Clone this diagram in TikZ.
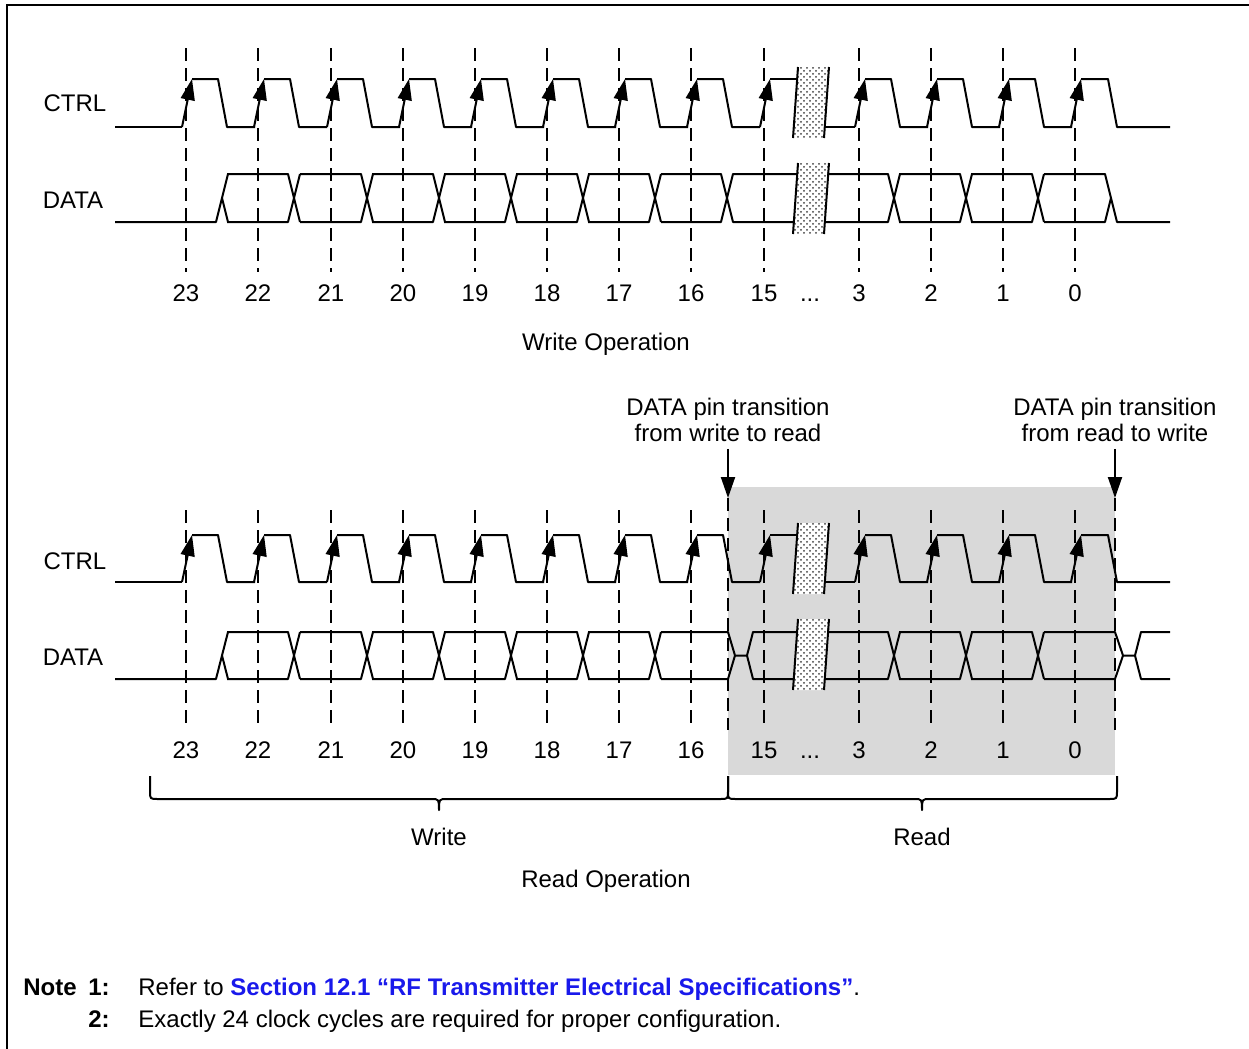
\documentclass[tikz,border=0pt]{standalone}
\usepackage{fontspec}
\setmainfont{Liberation Sans}
\usetikzlibrary{arrows.meta,patterns}
\definecolor{readgray}{RGB}{217,217,217}
\definecolor{linkblue}{RGB}{25,25,235}
\tikzset{
  wave/.style={line width=1pt, line join=round},
  clk/.style={wave, -{Triangle[length=10.5pt,width=7pt]}},
  tick/.style={line width=1pt, dash pattern=on 6.5pt off 3.5pt},
  boldlbl/.style={font=\fontsize{12}{13}\selectfont\bfseries},
  note/.style={inner sep=0pt},
}
\begin{document}
\begin{tikzpicture}[x=0.5pt, y=-0.5pt, every node/.style={font=\fontsize{12}{13}\selectfont}]
    \useasboundingbox (0,0) rectangle (1249,1049);
    % frame
    \draw[line width=1.2pt] (7,1049) -- (7,5) -- (1249,5);

    % read window
    \fill[readgray] (728,487) rectangle (1115,775);

    % dashed clock markers
    \foreach \x in {186,258,331,403,475,547,619,691,764,859,931,1003,1075}{%
        \draw[tick] (\x,48) -- (\x,272);
        \draw[tick] (\x,510) -- (\x,730);
    }
    \draw[tick] (728,498) -- (728,730);
    \draw[tick] (1115,498) -- (1115,730);

    % CTRL (write and read)
    \foreach \hi/\lo in {79/127,535/582}{%
        \draw[wave] (115,\lo) -- (182,\lo);
        \foreach \x in {186,258,331,403,475,547,619,691,859,931,1003}{%
            \draw[clk] (\x-4,\lo) -- (\x+6,\hi);
            \draw[wave] (\x+6,\hi) -- (\x+32,\hi) -- (\x+41,\lo) -- (\x+69,\lo);
        }
        \draw[clk] (760,\lo) -- (770,\hi);
        \draw[wave] (770,\hi) -- (797,\hi);
        \draw[wave] (825,\lo) -- (855,\lo);
        \draw[clk] (1071,\lo) -- (1081,\hi);
        \draw[wave] (1081,\hi) -- (1108,\hi) -- (1117,\lo) -- (1170,\lo);
    }

    % DATA (write and read)
    \foreach \hi/\md/\lo in {174/198/222,632/655.5/679}{%
        \draw[wave] (115,\lo) -- (216,\lo) -- (228,\hi);
        \draw[wave] (222,\md) -- (228,\lo);
        \foreach \c in {294,367,439,511,583,655,966,1038}{%
            \draw[wave] (\c-67,\hi) -- (\c-6,\hi) -- (\c+6,\lo);
            \draw[wave] (\c-67,\lo) -- (\c-6,\lo) -- (\c+6,\hi);
        }
        \draw[wave] (828,\hi) -- (888,\hi) -- (900,\lo);
        \draw[wave] (825,\lo) -- (888,\lo) -- (900,\hi);
    }
    % write: keeps driving
    \draw[wave] (661,174) -- (721,174) -- (733,222) -- (794,222);
    \draw[wave] (661,222) -- (721,222) -- (733,174) -- (797,174);
    \draw[wave] (1044,174) -- (1105,174) -- (1117,222) -- (1170,222);
    \draw[wave] (1044,222) -- (1105,222) -- (1111,198);
    % read: pin released
    \draw[wave] (661,632) -- (728,632) -- (735,655.5) -- (747,655.5) -- (753,632) -- (797,632);
    \draw[wave] (661,679) -- (728,679) -- (735,655.5);
    \draw[wave] (747,655.5) -- (753,679) -- (794,679);
    \draw[wave] (1044,632) -- (1115,632) -- (1123,655.5) -- (1135,655.5) -- (1141,632) -- (1170,632);
    \draw[wave] (1044,679) -- (1115,679) -- (1123,655.5);
    \draw[wave] (1135,655.5) -- (1141,679) -- (1170,679);

    % breaks
    \foreach \y in {67,163,523,619}{%
        \fill[white] (798,\y) -- (829,\y) -- (824,\y+71) -- (793,\y+71) -- cycle;
        \fill[pattern=crosshatch dots, pattern color=black!75] (798,\y) -- (829,\y) -- (824,\y+71) -- (793,\y+71) -- cycle;
        \draw[wave] (798,\y) -- (793,\y+71);
        \draw[wave] (829,\y) -- (824,\y+71);
    }

    % signal names
    \node (ctrlW) at (75,103) {CTRL};
    \node (dataW) at (73,200) {DATA};
    \node (ctrlR) at (75,561) {CTRL};
    \node (dataR) at (73,657) {DATA};

    % bit numbers
    \foreach \x/\n in {186/23,258/22,331/21,403/20,475/19,547/18,619/17,691/16,764/15,859/3,931/2,1003/1,1075/0}{%
        \node (w\n) at (\x,293) {\n};
        \node (r\n) at (\x,750) {\n};
    }
    \node[anchor=base] (wdots) at (810,301) {...};
    \node[anchor=base] (rdots) at (810,758) {...};

    \node[anchor=base] (wop) at (606,350) {Write Operation};
    \node[anchor=base] (rop) at (606,887) {Read Operation};

    % pin direction changes
    \node[align=center] (wtr) at (728,420) {DATA pin transition\\from write to read};
    \node[align=center] (rtr) at (1115,420) {DATA pin transition\\from read to write};
    \coordinate (wtip) at (728,498);
    \coordinate (rtip) at (1115,498);
    \draw[clk] (wtr) -- (wtip);
    \draw[clk] (rtr) -- (rtip);

    % braces
    \draw[wave] (150,776) -- (150,791) .. controls (150,799) .. (158,799) -- (431,799)
        .. controls (439,799) .. (439,810) .. controls (439,799) .. (447,799) -- (720,799)
        .. controls (728,799) .. (728,791) -- (728,776);
    \draw[wave] (728,776) -- (728,791) .. controls (728,799) .. (736,799) -- (914,799)
        .. controls (922,799) .. (922,810) .. controls (922,799) .. (930,799) -- (1109,799)
        .. controls (1117,799) .. (1117,791) -- (1117,776);
    \node[anchor=base] (wlab) at (439,845) {Write};
    \node[anchor=base] (rlab) at (922,845) {Read};

    % notes
    \node[note, boldlbl, anchor=base west] (note) at (23,995) {Note};
    \node[note, boldlbl, anchor=base east] (n1) at (110,995) {1:};
    \node[note, anchor=base west] (n1t) at (138,995) {Refer to \textcolor{linkblue}{\bfseries Section 12.1 “RF Transmitter Electrical Specifications”}.};
    \node[note, boldlbl, anchor=base east] (n2) at (110,1027) {2:};
    \node[note, anchor=base west] (n2t) at (138,1027) {Exactly 24 clock cycles are required for proper configuration.};
\end{tikzpicture}
\end{document}
